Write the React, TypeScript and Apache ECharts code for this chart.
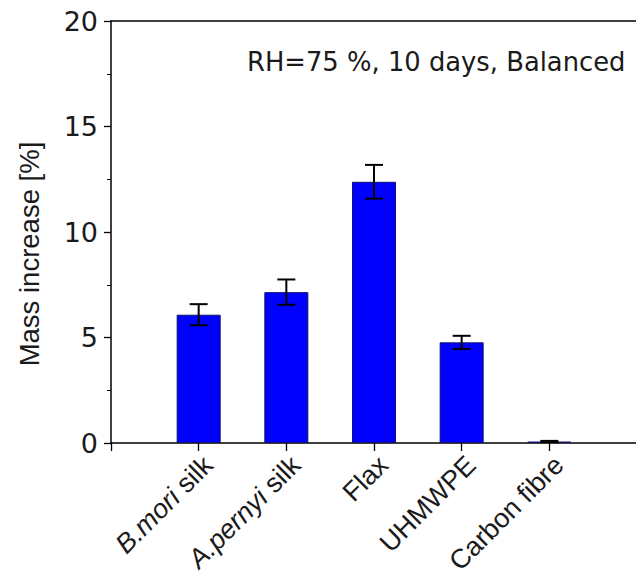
import React, { useEffect, useRef } from "react";
import * as echarts from "echarts";

// Water uptake of fibres after conditioning
const materials = ["B.mori silk", "A.pernyi silk", "Flax", "UHMWPE", "Carbon fibre"];
const italicPart = ["B.mori", "A.pernyi", "", "", ""];
const massIncrease = [6.08, 7.15, 12.38, 4.77, 0.07];
const errorHalf = [0.5, 0.6, 0.8, 0.31, 0.03];
const yTicks = [0, 5, 10, 15, 20];
const annotation = "RH=75 %, 10 days, Balanced";
const yTitle = "Mass increase [%]";

// axis slots: an empty slot at each end keeps the bars off the frame
const axisSlots = ["", ...materials, ""];

const TEXT = "#1a1a1a";
const WIDE_FONT = "DejaVu Sans";
const ARIAL = "Liberation Sans, Arial, sans-serif";

export default function App() {
  const ref = useRef<HTMLDivElement>(null);

  useEffect(() => {
    if (!ref.current) return;
    const chart = echarts.init(ref.current, null, { renderer: "svg" });

    const labelFormatter = (_v: string, index: number) => {
      const i = index - 1;
      if (i < 0 || i >= materials.length) return "";
      const name = materials[i];
      const it = italicPart[i];
      if (it) return `{it|${it}}{rm|${name.slice(it.length)}}`;
      return `{rm|${name}}`;
    };

    chart.setOption({
      animation: false,
      backgroundColor: "#ffffff",
      grid: {
        left: 111,
        top: 21,
        bottom: 135,
        width: 526,
        containLabel: false,
        outerBoundsMode: "none",
      },
      xAxis: [
        {
          type: "category",
          data: axisSlots,
          boundaryGap: false,
          axisLine: { lineStyle: { color: "#000", width: 1.5 } },
          axisTick: { show: true, length: 8, lineStyle: { color: "#000", width: 1.3 } },
          axisLabel: {
            interval: 0,
            rotate: 45,
            margin: 8,
            verticalAlign: "top",
            color: TEXT,
            fontFamily: ARIAL,
            fontSize: 27,
            formatter: labelFormatter,
            rich: {
              it: { fontStyle: "italic", fontFamily: ARIAL, fontSize: 27, color: TEXT },
              rm: { fontFamily: ARIAL, fontSize: 27, color: TEXT },
            },
          },
          splitLine: { show: false },
        },
        {
          type: "value",
          position: "top",
          min: 0,
          max: 1,
          axisLine: { show: true, onZero: false, lineStyle: { color: "#000", width: 1.5 } },
          axisTick: { show: false },
          axisLabel: { show: false },
          splitLine: { show: false },
        },
      ],
      yAxis: {
        type: "value",
        min: yTicks[0],
        max: yTicks[yTicks.length - 1],
        interval: yTicks[1] - yTicks[0],
        axisLine: { show: true, lineStyle: { color: "#000", width: 1.5 } },
        axisTick: { show: true, length: 7, lineStyle: { color: "#000", width: 1.3 } },
        minorTick: { show: true, splitNumber: 2, length: 4, lineStyle: { color: "#000", width: 1 } },
        axisLabel: { margin: 13, color: TEXT, fontFamily: WIDE_FONT, fontSize: 27 },
        splitLine: { show: false },
      },
      graphic: [
        {
          type: "text",
          x: 247,
          y: 62,
          style: {
            text: annotation,
            fill: TEXT,
            font: `25.8px ${WIDE_FONT}`,
            textAlign: "left",
            textVerticalAlign: "middle",
          },
        },
        {
          type: "text",
          x: 29,
          y: 254,
          rotation: Math.PI / 2,
          style: {
            text: yTitle,
            fill: TEXT,
            font: `27.5px ${ARIAL}`,
            textAlign: "center",
            textVerticalAlign: "middle",
          },
        },
      ],
      series: [
        {
          type: "bar",
          xAxisIndex: 0,
          barWidth: 44,
          data: materials.map((_, i) => [i + 1, massIncrease[i]]),
          itemStyle: { color: "#0000ff", borderColor: "#10106a", borderWidth: 1 },
          z: 2,
        },
        {
          type: "custom",
          xAxisIndex: 0,
          data: materials.map((_, i) => [
            i + 1,
            massIncrease[i] - errorHalf[i],
            massIncrease[i] + errorHalf[i],
          ]),
          encode: { x: 0, y: [1, 2] },
          z: 3,
          renderItem: (_params: any, api: any) => {
            const x = api.value(0);
            const lo = api.coord([x, api.value(1)]);
            const hi = api.coord([x, api.value(2)]);
            const half = 9;
            const style = { stroke: "#000", lineWidth: 2 };
            return {
              type: "group",
              children: [
                { type: "line", shape: { x1: lo[0], y1: lo[1], x2: hi[0], y2: hi[1] }, style },
                { type: "line", shape: { x1: hi[0] - half, y1: hi[1], x2: hi[0] + half, y2: hi[1] }, style },
                { type: "line", shape: { x1: lo[0] - half, y1: lo[1], x2: lo[0] + half, y2: lo[1] }, style },
              ],
            };
          },
        },
      ],
    });

    return () => chart.dispose();
  }, []);

  return (
    <div
      ref={ref}
      style={{ position: "fixed", left: 0, top: 0, width: 636, height: 578, background: "#fff" }}
    />
  );
}
